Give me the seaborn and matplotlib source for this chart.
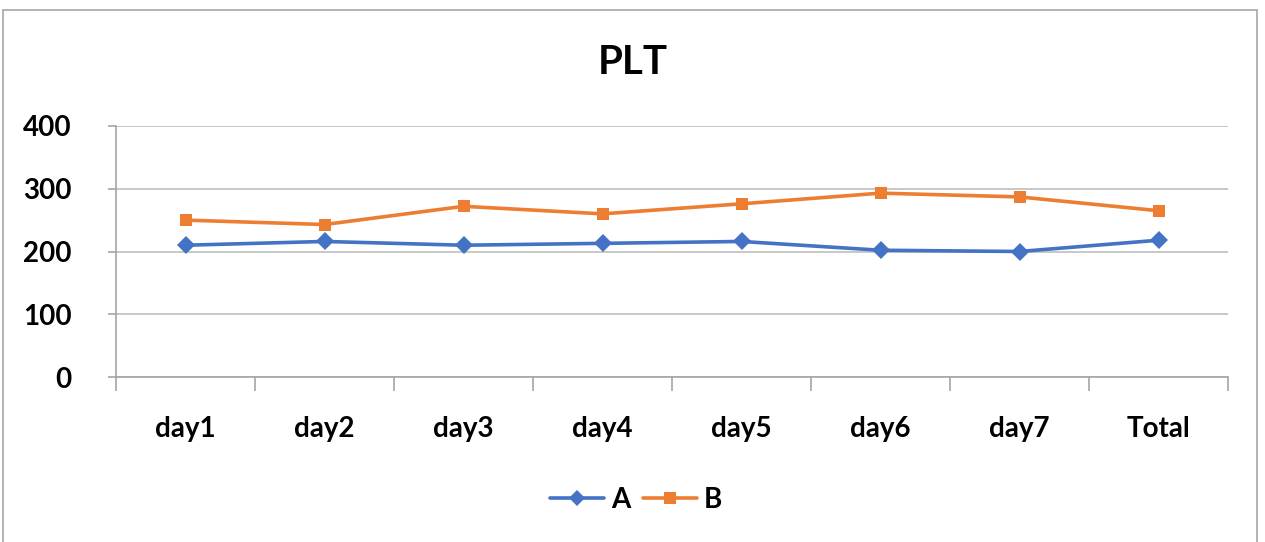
import matplotlib
matplotlib.use("Agg")
import matplotlib.pyplot as plt
from matplotlib.patches import Rectangle
from matplotlib.ticker import FixedLocator, NullFormatter
import seaborn as sns
import pandas as pd
import numpy as np

# PLT readings per day
categories = ["day1", "day2", "day3", "day4", "day5", "day6", "day7", "Total"]
series_a = [210, 216, 210, 213, 216, 202, 200, 218]
series_b = [250, 243, 272, 260, 276, 293, 287, 265]
y_ticks = [0, 100, 200, 300, 400]

sns.set_theme(style="white")
plt.rcParams["font.family"] = ["Lato", "DejaVu Sans"]
plt.rcParams["text.color"] = "black"
plt.rcParams["xtick.color"] = "black"
plt.rcParams["ytick.color"] = "black"

df = pd.DataFrame({
    "pos": list(range(len(categories))) * 2,
    "value": series_a + series_b,
    "series": ["A"] * len(series_a) + ["B"] * len(series_b),
})

fig = plt.figure(figsize=(12.65, 5.42), dpi=100)
ax = fig.add_axes([116 / 1265, 1 - 377 / 542, (1228 - 116) / 1265, (377 - 126) / 542])

# outer chart frame
fig.patches.append(Rectangle((3 / 1265, -0.01), (1257 - 3) / 1265, 1 - 10 / 542 + 0.01,
                             transform=fig.transFigure, fill=False,
                             edgecolor="#a6a6a6", linewidth=1.2))

palette = {"A": "#4472C4", "B": "#ED7D31"}
sns.lineplot(data=df, x="pos", y="value", hue="series", style="series",
             markers={"A": "D", "B": "s"}, dashes=False, palette=palette,
             linewidth=2.6, markersize=9, markeredgewidth=0, ax=ax, legend=False)

ax.set_xlim(-0.5, len(categories) - 0.5)
ax.set_ylim(0, 400)
ax.set_yticks(y_ticks)
ax.set_yticklabels([str(v) for v in y_ticks], fontsize=20, fontweight="bold")

# category boundaries as major ticks, labels centred on minor ticks
ax.xaxis.set_major_locator(FixedLocator(np.arange(-0.5, len(categories), 1.0)))
ax.xaxis.set_major_formatter(NullFormatter())
ax.xaxis.set_minor_locator(FixedLocator(np.arange(len(categories))))
ax.set_xticklabels(categories, minor=True, fontsize=20, fontweight="bold")
ax.tick_params(axis="x", which="major", bottom=True, length=10, width=1.2,
               color="#a6a6a6", direction="out")
ax.tick_params(axis="x", which="minor", bottom=True, length=0, pad=28)
ax.tick_params(axis="y", left=True, length=6, width=1.2, color="#a6a6a6",
               direction="out", pad=26)

ax.grid(axis="y", color="#bfbfbf", linewidth=1.2)
ax.set_axisbelow(True)
for side in ["top", "right"]:
    ax.spines[side].set_visible(False)
for side in ["left", "bottom"]:
    ax.spines[side].set_color("#a6a6a6")
    ax.spines[side].set_linewidth(1.2)
ax.set_xlabel("")
ax.set_ylabel("")

fig.text(0.5, 1 - 62 / 542, "PLT", ha="center", va="center", fontsize=29, fontweight="bold")

handles = [
    plt.Line2D([], [], color=palette["A"], marker="D", markersize=8, markeredgewidth=0, linewidth=2.6),
    plt.Line2D([], [], color=palette["B"], marker="s", markersize=8, markeredgewidth=0, linewidth=2.6),
]
fig.legend(handles, ["A", "B"], loc="center", bbox_to_anchor=(0.503, 1 - 500 / 542),
           ncol=2, frameon=False, handlelength=1.95, columnspacing=0.45, handletextpad=0.25,
           prop={"weight": "bold", "size": 20})

fig.savefig("out.png", dpi=100)
